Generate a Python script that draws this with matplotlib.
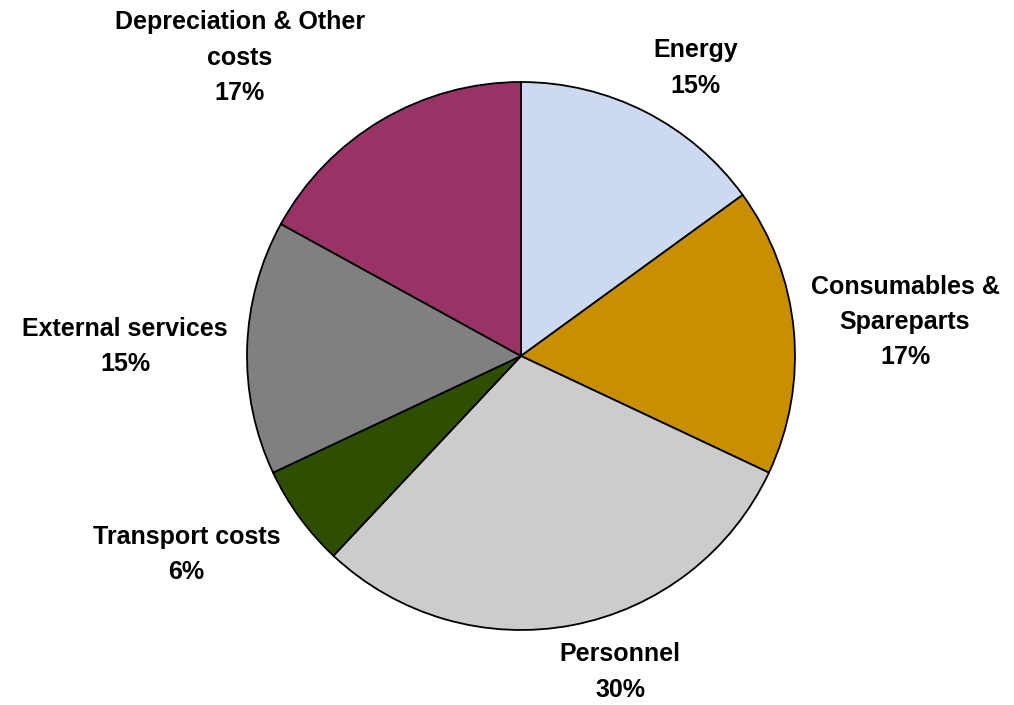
import numpy as np
import matplotlib.pyplot as plt
from matplotlib.transforms import offset_copy

# cost breakdown (clockwise from 12 o'clock)
categories = ["Energy", "Consumables &\nSpareparts", "Personnel", "Transport costs",
              "External services", "Depreciation & Other\ncosts"]
shares = [15, 17, 30, 6, 15, 17]
colors = ["#CCD9F0", "#C89000", "#CCCCCC", "#2F4F00", "#808080", "#993366"]

# label placement: distance from centre (in radii) and angle nudge (deg)
label_dist = [1.239, 1.408, 1.198, 1.414, 1.446, 1.504]
label_nudge = [-4.0, 0.1, 6.8, -5.7, 0.0, 12.4]

plt.rcParams["font.family"] = ["Liberation Sans", "DejaVu Sans"]

fig = plt.figure(figsize=(10.14, 7.05), dpi=100)
ax = fig.add_axes([0, 0, 1, 1])

wedges, _ = ax.pie(shares, colors=colors, startangle=90, counterclock=False,
                   radius=1.0, wedgeprops=dict(edgecolor="black", linewidth=1.3))

# multi-line bbox sits a little high, push labels down a few pixels
lbl_trans = offset_copy(ax.transData, fig=fig, x=0, y=-3, units="dots")

total = sum(shares)
for w, name, val, d, off in zip(wedges, categories, shares, label_dist, label_nudge):
    theta = np.deg2rad((w.theta1 + w.theta2) / 2 + off)
    ax.text(d * np.cos(theta), d * np.sin(theta), f"{name}\n{val / total * 100:.0f}%",
            ha="center", va="center", fontsize=18, fontweight="bold",
            linespacing=1.6, transform=lbl_trans)

# centre at (521, 356) px, radius 274 px
ax.set_xlim(-521 / 274, (1014 - 521) / 274)
ax.set_ylim(-(705 - 356) / 274, 356 / 274)
ax.set_aspect("auto")
ax.axis("off")

fig.savefig("out.png", dpi=100)
